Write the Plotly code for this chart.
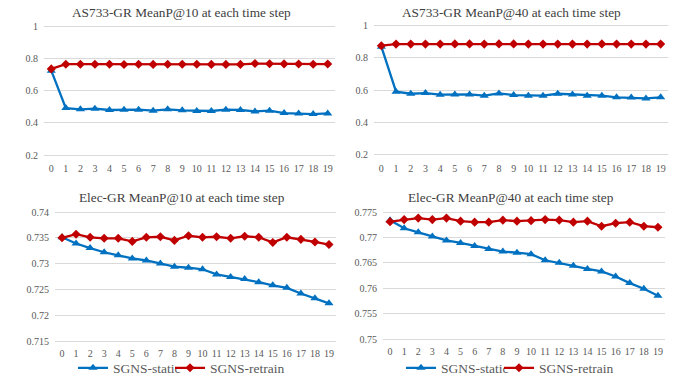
import plotly.graph_objects as go

W, H = 686, 377

steps = list(range(20))

as733_p10_static = [0.723, 0.491, 0.483, 0.487, 0.479, 0.481, 0.481, 0.475, 0.483, 0.477,
                    0.473, 0.473, 0.481, 0.479, 0.470, 0.475, 0.460, 0.458, 0.454, 0.458]
as733_p10_retrain = [0.734, 0.763, 0.763, 0.763, 0.763, 0.761, 0.763, 0.762, 0.763, 0.763,
                     0.763, 0.762, 0.762, 0.762, 0.767, 0.766, 0.765, 0.764, 0.763, 0.764]

as733_p40_static = [0.870, 0.591, 0.578, 0.582, 0.572, 0.574, 0.574, 0.566, 0.580, 0.570,
                    0.566, 0.566, 0.578, 0.574, 0.566, 0.566, 0.556, 0.554, 0.549, 0.556]
as733_p40_retrain = [0.876, 0.886, 0.886, 0.886, 0.886, 0.887, 0.887, 0.886, 0.887, 0.887,
                     0.886, 0.886, 0.886, 0.886, 0.886, 0.887, 0.886, 0.886, 0.886, 0.886]

elec_p10_static = [0.7351, 0.7339, 0.7330, 0.7322, 0.7316, 0.7310, 0.7306, 0.7300, 0.7294, 0.7292,
                   0.7289, 0.7279, 0.7274, 0.7270, 0.7264, 0.7258, 0.7253, 0.7242, 0.7233, 0.7223]
elec_p10_retrain = [0.7350, 0.7357, 0.7351, 0.7349, 0.7349, 0.7343, 0.7351, 0.7352, 0.7345, 0.7354,
                    0.7351, 0.7352, 0.7349, 0.7353, 0.7351, 0.7341, 0.7351, 0.7347, 0.7342, 0.7337]

elec_p40_static = [0.7734, 0.7718, 0.7710, 0.7702, 0.7694, 0.7689, 0.7683, 0.7677, 0.7672, 0.7670,
                   0.7667, 0.7655, 0.7650, 0.7644, 0.7638, 0.7633, 0.7623, 0.7610, 0.7599, 0.7585]
elec_p40_retrain = [0.7731, 0.7735, 0.7738, 0.7735, 0.7738, 0.7732, 0.7730, 0.7730, 0.7734, 0.7732,
                    0.7733, 0.7735, 0.7734, 0.7730, 0.7732, 0.7722, 0.7728, 0.7730, 0.7722, 0.7720]

titles = ["AS733-GR MeanP@10 at each time step", "AS733-GR MeanP@40 at each time step",
          "Elec-GR MeanP@10 at each time step", "Elec-GR MeanP@40 at each time step"]

ticks_as733 = [0.2, 0.4, 0.6, 0.8, 1.0]
ticklabels_as733 = ["0.2", "0.4", "0.6", "0.8", "1"]
ticks_elec10 = [0.715, 0.72, 0.725, 0.73, 0.735, 0.74]
ticklabels_elec10 = ["0.715", "0.72", "0.725", "0.73", "0.735", "0.74"]
ticks_elec40 = [0.75, 0.755, 0.76, 0.765, 0.77, 0.775]
ticklabels_elec40 = ["0.75", "0.755", "0.76", "0.765", "0.77", "0.775"]

names = ["SGNS-static", "SGNS-retrain"]

BLUE = "#0070C0"
RED = "#C00000"
GRID = "#D9D9D9"
TXT = "#595959"
FONT = "Liberation Serif"

# panel pixel boxes: (x0, x1, ytop, ybottom)
panels = [
    (44, 335, 26, 155),
    (374, 668, 25.7, 154.7),
    (55, 336, 212, 341),
    (383, 665, 212, 339),
]
title_pos = [(181, 12), (511, 12), (182, 198), (511, 198)]
yranges = [(0.2, 1.0), (0.2, 1.0), (0.715, 0.74), (0.75, 0.775)]
yticks = [(ticks_as733, ticklabels_as733), (ticks_as733, ticklabels_as733),
          (ticks_elec10, ticklabels_elec10), (ticks_elec40, ticklabels_elec40)]
data = [(as733_p10_static, as733_p10_retrain), (as733_p40_static, as733_p40_retrain),
        (elec_p10_static, elec_p10_retrain), (elec_p40_static, elec_p40_retrain)]
xstandoff = [4, 4, 3, 3]

fig = go.Figure()
layout = dict(width=W, height=H, margin=dict(l=0, r=0, t=0, b=0, autoexpand=False),
              paper_bgcolor="white", plot_bgcolor="white",
              font=dict(family=FONT, color=TXT, size=10))
annotations = []

legend_ids = {2: ("legend", "legend2"), 3: ("legend3", "legend4")}
legend_pos = {"legend": (73, 368), "legend2": (170, 368),
              "legend3": (401, 368), "legend4": (499, 368)}

PAD = 2.0  # px of extra room at top/bottom so edge gridlines are drawn

for i, (x0, x1, yt, yb) in enumerate(panels):
    sfx = "" if i == 0 else str(i + 1)
    xa = "x" + sfx
    ya = "y" + sfx
    stat, retr = data[i]
    show = i in legend_ids
    fig.add_trace(go.Scatter(
        x=steps, y=stat, xaxis=xa, yaxis=ya, mode="lines+markers", name=names[0],
        line=dict(color=BLUE, width=2.3),
        marker=dict(symbol="triangle-up", size=8, color=BLUE),
        showlegend=show, legend=legend_ids[i][0] if show else None))
    fig.add_trace(go.Scatter(
        x=steps, y=retr, xaxis=xa, yaxis=ya, mode="lines+markers", name=names[1],
        line=dict(color=RED, width=2.3),
        marker=dict(symbol="diamond", size=7, color=RED),
        showlegend=show, legend=legend_ids[i][1] if show else None))
    lo, hi = yranges[i]
    ppx = (hi - lo) / (yb - yt)
    tv, tt = yticks[i]
    layout["xaxis" + sfx] = dict(
        domain=[x0 / W, x1 / W], anchor=ya, range=[-0.5, 19.5],
        tickmode="array", tickvals=steps, ticktext=[str(s) for s in steps],
        showgrid=False, zeroline=False, showline=False, ticks="",
        ticklabelstandoff=xstandoff[i],
        tickfont=dict(family=FONT, size=10, color=TXT), fixedrange=True)
    layout["yaxis" + sfx] = dict(
        domain=[1 - (yb + PAD) / H, 1 - (yt - PAD) / H], anchor=xa,
        range=[lo - PAD * ppx, hi + PAD * ppx],
        tickmode="array", tickvals=tv, ticktext=tt,
        showgrid=True, gridcolor=GRID, gridwidth=1, zeroline=False, showline=False,
        ticks="", ticklabelstandoff=5,
        tickfont=dict(family=FONT, size=10, color=TXT), fixedrange=True)
    tx, ty = title_pos[i]
    annotations.append(dict(text=titles[i], x=tx / W, y=1 - ty / H, xref="paper", yref="paper",
                            xanchor="center", yanchor="middle", showarrow=False,
                            font=dict(family=FONT, size=13.3, color="#404040")))

for lid, (lx, ly) in legend_pos.items():
    layout[lid] = dict(x=lx / W, y=1 - ly / H, xanchor="left", yanchor="middle",
                       orientation="h", bgcolor="rgba(0,0,0,0)",
                       font=dict(family=FONT, size=13.5, color=TXT))

layout["annotations"] = annotations
fig.update_layout(**layout)
fig.write_html("out.html")
